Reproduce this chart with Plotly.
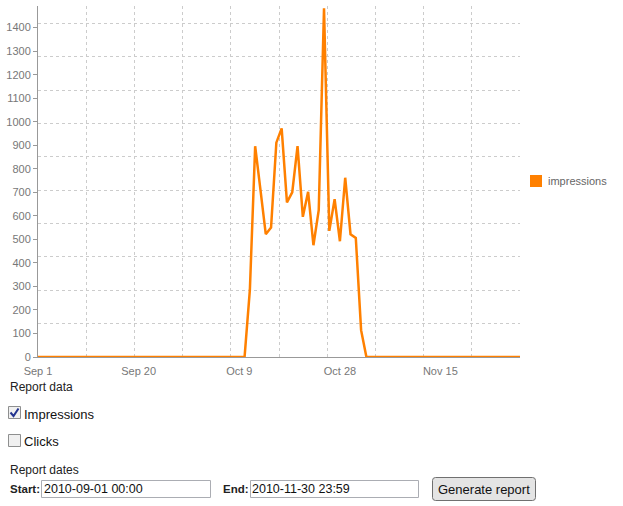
import plotly.graph_objects as go
import pandas as pd

# ---------------- data ----------------
start_date = "2010-09-01"
end_date = "2010-12-01"
dates = pd.date_range(start_date, end_date, freq="D")
impressions = (
    [0] * 40                                  # Sep 1 .. Oct 10
    + [285, 896, 710, 522, 550, 911, 972, 657, 700, 896, 596,
       702, 475, 624, 1482, 536, 671, 492, 762, 522, 506, 114]  # Oct 11 .. Nov 1
    + [0] * 30                                # Nov 2 .. Dec 1
)
series_name = "impressions"
x_tickvals = ["2010-09-01", "2010-09-20", "2010-10-09", "2010-10-28", "2010-11-15 23:00"]
x_ticktext = ["Sep 1", "Sep 20", "Oct 9", "Oct 28", "Nov 15"]
y_tickvals = list(range(0, 1500, 100))
y_max = 1492

# ---------------- layout geometry ----------------
W_PX, H_PX = 623, 506
L, R, T, B = 38, 103, 6, 149
PW = W_PX - L - R
PH = H_PX - T - B


def px(x):
    return (x - L) / PW


def py(y):
    return (H_PX - B - y) / PH


ORANGE = "#ff8000"
FONT = "Liberation Sans, Arial, sans-serif"

fig = go.Figure()
fig.add_trace(go.Scatter(
    x=dates, y=impressions, mode="lines", name=series_name,
    line=dict(color=ORANGE, width=2.5), showlegend=False,
    hoverinfo="x+y",
))

shapes = []
annotations = []

# legend (square + text)
shapes.append(dict(type="rect", xref="paper", yref="paper",
                   x0=px(530), x1=px(542), y0=py(187), y1=py(175),
                   fillcolor=ORANGE, line=dict(width=0)))
annotations.append(dict(text=series_name, xref="paper", yref="paper",
                        x=px(547), y=py(181), xanchor="left", yanchor="middle",
                        showarrow=False, borderpad=0,
                        font=dict(family=FONT, size=11, color="#666666")))


def label(text, x, y, size=13, bold=False, color="#111111", anchor="left"):
    annotations.append(dict(
        text=("<b>%s</b>" % text) if bold else text,
        xref="paper", yref="paper", x=px(x), y=py(y),
        xanchor=anchor, yanchor="middle", showarrow=False, borderpad=0,
        font=dict(family=FONT, size=size, color=color)))


def box(x0, y0, x1, y1, fill="#ffffff", border="#abadb3"):
    shapes.append(dict(type="rect", xref="paper", yref="paper",
                       x0=px(x0), x1=px(x1), y0=py(y1), y1=py(y0),
                       fillcolor=fill, line=dict(color=border, width=1)))


# form below chart
label("Report data", 9, 387, size=12, color="#222222")
box(8.5, 406.5, 20.5, 418.5, fill="#f0f0f0", border="#8e8f8f")
shapes.append(dict(type="path", xref="paper", yref="paper",
                   path="M %f,%f L %f,%f L %f,%f" % (px(10.5), py(412.5), px(13.5), py(416),
                                                     px(18.5), py(408.5)),
                   line=dict(color="#22338f", width=2)))
label("Impressions", 23, 414, size=13)
box(8.5, 434.5, 20.5, 446.5, fill="#f0f0f0", border="#8e8f8f")
label("Clicks", 23, 442, size=13)

label("Report dates", 9, 470, size=12, color="#222222")
label("Start:", 9, 489, size=11.5, bold=True, color="#222222")
box(41.5, 480.5, 210.5, 497.5)
label("2010-09-01 00:00", 43, 489, size=12.5)
label("End:", 222, 489, size=11.5, bold=True, color="#222222")
box(250.5, 480.5, 418.5, 497.5)
label("2010-11-30 23:59", 251, 489, size=12.5)

# button (rounded)
bx0, by0, bx1, by1, r = 432.5, 477.5, 535.5, 500.5, 3
path = ("M %f,%f L %f,%f Q %f,%f %f,%f L %f,%f Q %f,%f %f,%f L %f,%f Q %f,%f %f,%f "
        "L %f,%f Q %f,%f %f,%f Z") % (
    px(bx0 + r), py(by0), px(bx1 - r), py(by0), px(bx1), py(by0), px(bx1), py(by0 + r),
    px(bx1), py(by1 - r), px(bx1), py(by1), px(bx1 - r), py(by1),
    px(bx0 + r), py(by1), px(bx0), py(by1), px(bx0), py(by1 - r),
    px(bx0), py(by0 + r), px(bx0), py(by0), px(bx0 + r), py(by0))
shapes.append(dict(type="path", xref="paper", yref="paper", path=path,
                   fillcolor="#e4e4e4", line=dict(color="#707070", width=1)))
label("Generate report", 484, 489, size=13, anchor="center")

grid = dict(showgrid=True, gridcolor="#cccccc", griddash="3px,3px", gridwidth=1)

fig.update_layout(
    width=W_PX, height=H_PX,
    margin=dict(l=L, r=R, t=T, b=B, pad=0),
    paper_bgcolor="white", plot_bgcolor="white",
    font=dict(family=FONT, size=11, color="#777777"),
    showlegend=False,
    shapes=shapes, annotations=annotations,
    xaxis=dict(
        type="date", range=[start_date, end_date],
        tickmode="array", tickvals=x_tickvals, ticktext=x_ticktext,
        showgrid=False, zeroline=False,
        showline=True, linecolor="#999999", linewidth=1,
        ticks="", tickfont=dict(size=11, color="#777777"),
        ticklabelstandoff=4,
        minor=dict(tick0=start_date, dtick=786240000, ticks="", **grid),
    ),
    yaxis=dict(
        range=[0, y_max], tickmode="array", tickvals=y_tickvals,
        showgrid=False, zeroline=False,
        showline=True, linecolor="#999999", linewidth=1,
        ticks="outside", ticklen=4, tickcolor="#999999",
        tickfont=dict(size=11, color="#777777"),
        minor=dict(tick0=0, dtick=141.8, ticks="", **grid),
    ),
)

fig.write_html(
    "out.html",
    config={"displayModeBar": False},
    post_script="document.body.style.margin='0';document.body.style.overflow='hidden';",
)
